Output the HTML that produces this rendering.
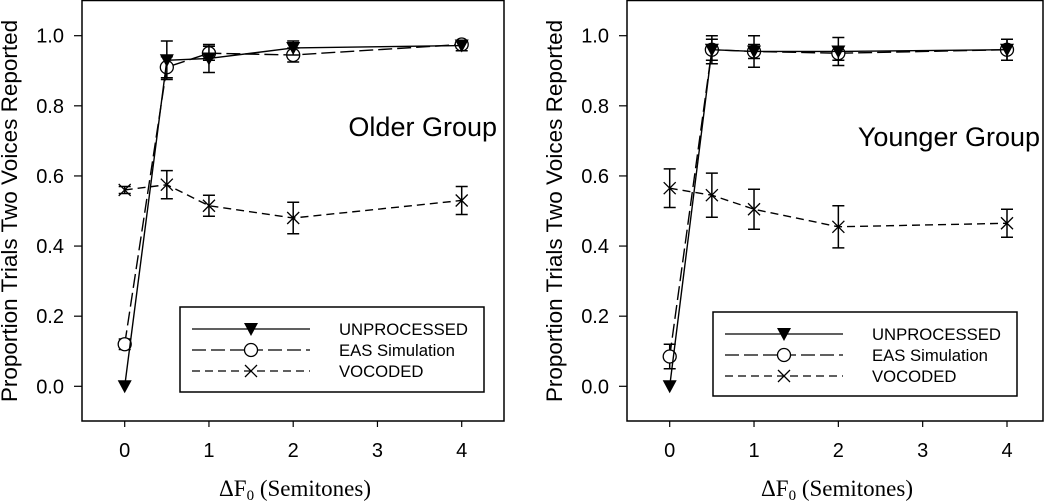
<!DOCTYPE html>
<html><head><meta charset="utf-8"><style>
html,body{margin:0;padding:0;background:#fff;}
svg{display:block;font-family:"Liberation Sans",sans-serif;}
</style></head><body>
<svg id="fig" width="1050" height="501" viewBox="0 0 1050 501"></svg>
<script>
const xValues=[0,0.5,1,2,4];
const xTicks=[0,1,2,3,4];
const yTicks=[0,0.2,0.4,0.6,0.8,1.0];
const yTickLabels=["0.0","0.2","0.4","0.6","0.8","1.0"];
const olderUnproc=[0,0.93,0.935,0.965,0.972];
const olderUnprocErr=[0,0.055,0.04,0.02,0.015];
const olderEas=[0.12,0.91,0.95,0.945,0.975];
const olderEasErr=[0.015,0.03,0.02,0.02,0.01];
const olderVoc=[0.56,0.575,0.515,0.48,0.53];
const olderVocErr=[0.01,0.04,0.03,0.045,0.04];
const youngUnproc=[0,0.96,0.955,0.955,0.96];
const youngUnprocErr=[0,0.04,0.045,0.04,0.03];
const youngEas=[0.085,0.96,0.955,0.95,0.96];
const youngEasErr=[0.035,0.03,0.02,0.02,0.03];
const youngVoc=[0.565,0.545,0.505,0.455,0.465];
const youngVocErr=[0.055,0.063,0.057,0.06,0.04];
const legendLabels=["UNPROCESSED","EAS Simulation","VOCODED"];

const NS="http://www.w3.org/2000/svg";
const svg=document.getElementById('fig');
function mk(tag,attrs,parent,name){const e=document.createElementNS(NS,tag);for(const k in attrs)e.setAttribute(k,attrs[k]);


(parent||svg).appendChild(e);return e;}

function panel(cfg){
  const g=mk('g',{},svg,cfg.name);
  const sx=v=>cfg.x0+(cfg.x4-cfg.x0)*v/4;
  const sy=v=>386.3-(386.3-35.7)*v;
  mk('rect',{x:cfg.left,y:0.5,width:cfg.right-cfg.left,height:420.5,fill:'none',stroke:'#000','stroke-width':1.5},g,'plot-frame');
  yTicks.forEach((t,i)=>{
    mk('line',{x1:cfg.left-8,x2:cfg.left,y1:sy(t),y2:sy(t),stroke:'#000','stroke-width':1.2},g,'y-tick');
    const tx=mk('text',{x:cfg.left-18,y:sy(t)+7,'font-size':20,'text-anchor':'end'},g,'y-tick-label');tx.textContent=yTickLabels[i];
  });
  xTicks.forEach(t=>{
    mk('line',{x1:sx(t),x2:sx(t),y1:421,y2:427,stroke:'#000','stroke-width':1.2},g,'x-tick');
    const tx=mk('text',{x:sx(t),y:457,'font-size':20,'text-anchor':'middle'},g,'x-tick-label');tx.textContent=t;
  });
  const yl=mk('text',{x:0,y:0,'font-size':22.5,'text-anchor':'middle',transform:`translate(${cfg.left-65},211) rotate(-90)`},g,'y-axis-title');
  yl.textContent='Proportion Trials Two Voices Reported';
  const xl=mk('text',{x:(cfg.left+cfg.right)/2+2,y:496,'font-size':23,'text-anchor':'middle','font-family':'Liberation Serif, serif'},g,'x-axis-title');
  xl.innerHTML='ΔF<tspan font-size="15" dy="4">0</tspan><tspan dy="-4"> (Semitones)</tspan>';
  const gt=mk('text',{x:cfg.gx,y:cfg.gy,'font-size':27,'text-anchor':'end'},g,'group-label');gt.textContent=cfg.group;
  const series=[
    {v:cfg.voc,e:cfg.vocE,dash:'8,5',m:'x',n:'vocoded'},
    {v:cfg.eas,e:cfg.easE,dash:'14,5',m:'o',n:'eas-simulation'},
    {v:cfg.un,e:cfg.unE,dash:'',m:'t',n:'unprocessed'}];
  series.forEach(s=>{
    const sg=mk('g',{},g,'series-'+s.n);
    mk('polyline',{points:xValues.map((x,i)=>sx(x)+','+sy(s.v[i])).join(' '),fill:'none',stroke:'#000','stroke-width':1.4,'stroke-dasharray':s.dash},sg,'line-'+s.n);
    xValues.forEach((x,i)=>{
      const cx=sx(x),cy=sy(s.v[i]);
      if(s.e[i]>0){const a=sy(s.v[i]+s.e[i]),b=sy(s.v[i]-s.e[i]);
        mk('path',{d:`M${cx},${a}V${b}M${cx-6},${a}H${cx+6}M${cx-6},${b}H${cx+6}`,stroke:'#000','stroke-width':1.5,fill:'none'},sg,'error-bar');}
      marker(sg,s.m,cx,cy,s.n);
    });
  });
  const L=cfg.leg;
  mk('rect',{x:L.x,y:L.y,width:L.w,height:L.h,fill:'#fff',stroke:'#000','stroke-width':1.5},g,'legend');
  const ms=['t','o','x'],ds=['','14,5','8,5'],nm=['unprocessed','eas-simulation','vocoded'];
  ms.forEach((m,i)=>{
    const yy=L.y+22+i*21;
    mk('line',{x1:L.x+12,x2:L.x+130,y1:yy,y2:yy,stroke:'#000','stroke-width':1.3,'stroke-dasharray':ds[i]},g,'legend-line-'+nm[i]);
    marker(g,m,L.x+71,yy,nm[i]);
    const t=mk('text',{x:L.x+159,y:yy+6,'font-size':16.7},g,'legend-entry');t.textContent=legendLabels[i];
  });
}
function marker(p,m,cx,cy,n){
  if(m==='t')mk('path',{d:`M${cx-7},${cy-6}L${cx+7},${cy-6}L${cx},${cy+7}Z`,fill:'#000'},p,'marker-'+n);
  else if(m==='o')mk('circle',{cx:cx,cy:cy,r:6.5,fill:'#fff',stroke:'#000','stroke-width':1.3},p,'marker-'+n);
  else mk('path',{d:`M${cx-6},${cy-6}L${cx+6},${cy+6}M${cx-6},${cy+6}L${cx+6},${cy-6}`,stroke:'#000','stroke-width':1.3},p,'marker-'+n);
}
panel({name:'older-group-panel',left:82,right:504,x0:124.7,x4:461.7,group:'Older Group',gx:497,gy:136,
  un:olderUnproc,unE:olderUnprocErr,eas:olderEas,easE:olderEasErr,voc:olderVoc,vocE:olderVocErr,
  leg:{x:180,y:307,w:304,h:85}});
panel({name:'younger-group-panel',left:627,right:1043,x0:669.7,x4:1007,group:'Younger Group',gx:1040,gy:146,
  un:youngUnproc,unE:youngUnprocErr,eas:youngEas,easE:youngEasErr,voc:youngVoc,vocE:youngVocErr,
  leg:{x:713,y:312,w:304,h:84}});
</script>
</body></html>
